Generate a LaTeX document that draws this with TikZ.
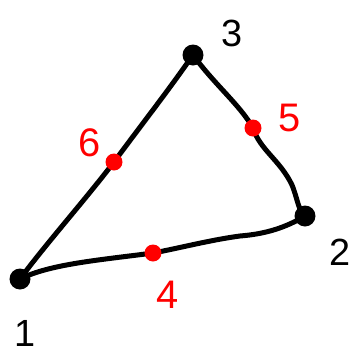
\documentclass[tikz,border=0pt]{standalone}
\usepackage{fontspec}
\setmainfont{Liberation Sans}
\begin{document}
\begin{tikzpicture}[x=1bp,y=-1bp,
  vert/.style={circle,fill=black,inner sep=0pt,minimum size=21bp},
  mid/.style={circle,fill=red,inner sep=0pt,minimum size=17bp},
  edge/.style={line width=5bp,line cap=round,line join=round},
  blab/.style={font=\fontsize{38}{42}\selectfont,text=black},
  rlab/.style={font=\fontsize{40}{44}\selectfont,text=red}]
\useasboundingbox (0,0) rectangle (351,360);
\node[vert] (v1) at (20,279) {};
\node[vert] (v2) at (305,216) {};
\node[vert] (v3) at (193,55) {};
\coordinate (c1) at (20,279);
\coordinate (c2) at (305,216);
\coordinate (c3) at (193,55);
\coordinate (m4) at (153,253);
\coordinate (m5) at (253,128);
\coordinate (m6) at (114,162);
\draw[edge] (c1) .. controls (45,245) and (85,200) .. (m6) .. controls (145,120) and (165,95) .. (c3);
\draw[edge] (c3) .. controls (215,85) and (240,105) .. (m5) .. controls (260,150) and (280,160) .. (292,185) .. controls (298,200) and (298,210) .. (c2);
\draw[edge] (c2) .. controls (285,228) and (265,234) .. (240,236) .. controls (210,240) and (180,248) .. (m4) .. controls (100,260) and (50,264) .. (c1);
\node[mid] (p4) at (m4) {};
\node[mid] (p5) at (m5) {};
\node[mid] (p6) at (m6) {};
\node[blab] (l3) at (232,33) {3};
\node[blab] (l2) at (340,252) {2};
\node[blab] (l1) at (25,333) {1};
\node[rlab] (l6) at (90,143) {6};
\node[rlab] (l5) at (290,118) {5};
\node[rlab] (l4) at (168,295) {4};
\end{tikzpicture}
\end{document}
